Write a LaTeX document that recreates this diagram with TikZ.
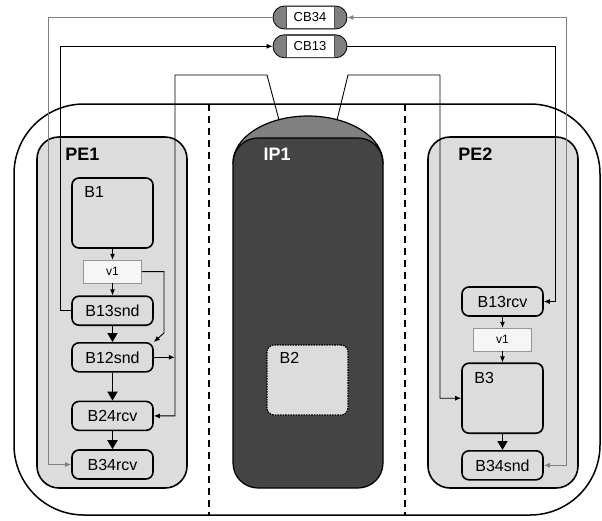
\documentclass[tikz,border=0pt]{standalone}
\usepackage{fontspec}
\setmainfont{Liberation Sans}
\usetikzlibrary{positioning,calc,arrows.meta}
\definecolor{peFill}{RGB}{220,220,220}
\definecolor{ipDark}{RGB}{68,68,68}
\definecolor{domeGrey}{RGB}{128,128,128}
\definecolor{varFill}{RGB}{246,246,246}
\definecolor{varEdge}{RGB}{150,150,150}
\definecolor{chanGrey}{RGB}{128,128,128}

\begin{document}
\begin{tikzpicture}[x=1pt,y=-1pt,
  outerbox/.style={draw,line width=1.5pt,rounded corners=70pt,
                   minimum width=586pt,minimum height=411pt},
  divider/.style={line width=1.5pt,dash pattern=on 7pt off 5pt},
  pe/.style={draw,fill=peFill,line width=1.6pt,rounded corners=22pt,
             minimum width=150pt,minimum height=351pt},
  ip/.style={draw,fill=ipDark,line width=1.2pt,rounded corners=25pt,
             minimum width=150pt,minimum height=350pt},
  petitle/.style={font=\fontsize{18}{20}\selectfont\bfseries,anchor=west,inner sep=0pt},
  blk/.style={draw,fill=peFill,line width=1.6pt,rounded corners=7pt,
              minimum width=81pt,minimum height=29pt,inner sep=0pt,
              font=\fontsize{16}{18}\selectfont},
  bigblk/.style={blk,minimum height=70pt},
  blab/.style={font=\fontsize{16}{18}\selectfont,anchor=west,inner sep=0pt},
  varbox/.style={draw=varEdge,fill=varFill,line width=0.6pt,minimum width=58pt,
                 minimum height=23pt,inner sep=0pt,font=\fontsize{12}{14}\selectfont},
  cbcap/.style={draw,fill=domeGrey,line width=0.8pt,rounded corners=11.5pt,
                minimum width=74pt,minimum height=23pt},
  cbtag/.style={draw=black!70,fill=white,line width=0.5pt,minimum width=48pt,
                minimum height=22pt,inner sep=0pt,font=\fontsize{13}{15}\selectfont},
  sig/.style={line width=0.9pt,-{Latex[length=6pt,width=5pt]}},
  thk/.style={line width=1.8pt,-{Triangle[length=9pt,width=10pt]}},
  chan/.style={line width=1pt,draw=chanGrey}
]
\useasboundingbox (0,0) rectangle (602,520);

% ==========  frame + partitions  ==========
\node[outerbox] (sys) at (307,309.5) {};
\draw[divider] (209,104) -- (209,515);
\draw[divider] (405,104) -- (405,515);

% ==========  PE1 column  ==========
\node[pe] (pe1) at (112,312.5) {};
\node[petitle] (pe1lab) at ($(pe1.north west)+(29,18)$) {PE1};

\node[bigblk] (b1) at (112.5,213) {};
\node[blab] (b1lab) at ($(b1.north west)+(13,15)$) {B1};
\node[varbox,below=11pt of b1] (v1a) {v1};
\node[blk,below=12pt of v1a] (b13snd) {B13snd};
\node[blk,below=16pt of b13snd] (b12snd) {B12snd};
\node[blk,below=28pt of b12snd] (b24rcv) {B24rcv};
\node[blk,below=18pt of b24rcv] (b34rcv) {B34rcv};

% ==========  IP1 column  ==========
\draw[fill=domeGrey,line width=1.2pt] (233,163)
  arc[start angle=180,end angle=0,x radius=75pt,y radius=47pt] -- cycle;
\node[ip] (ip1) at (308,313) {};
\node[petitle,text=white] (ip1lab) at ($(ip1.north west)+(31,17)$) {IP1};
\coordinate (ipL) at (279,120);
\coordinate (ipR) at (337,120);

\node[bigblk,densely dotted,line width=1.2pt] (b2) at (307.5,380) {};
\node[blab] (b2lab) at ($(b2.north west)+(13,14)$) {B2};

% ==========  PE2 column  ==========
\node[pe] (pe2) at (503,312.5) {};
\node[petitle] (pe2lab) at ($(pe2.north west)+(31,18)$) {PE2};

\node[blk] (b13rcv) at (502.5,301.5) {B13rcv};
\node[varbox,below=11pt of b13rcv] (v1b) {v1};
\node[bigblk,below=11pt of v1b] (b3) {};
\node[blab] (b3lab) at ($(b3.north west)+(13,16)$) {B3};
\node[blk,below=16pt of b3] (b34snd) {B34snd};

% ==========  channels (top)  ==========
\node[cbcap] (cb34) at (310,17.5) {};
\node[cbtag] (cb34t) at (cb34) {CB34};
\node[cbcap,below=5pt of cb34] (cb13) {};
\node[cbtag] (cb13t) at (cb13) {CB13};

% ==========  PE1 flow  ==========
\draw[sig] (b1) -- (v1a);
\draw[sig] (v1a) -- (b13snd);
\draw[thk] (b13snd) -- (b12snd);
\draw[thk] (b12snd) -- (b24rcv);
\draw[thk] (b24rcv) -- (b34rcv);
\draw[sig] (v1a.east) -| (164,333) -- (b12snd.north east);
\draw[sig] (b12snd.east) -- ++(21,0);

% ==========  PE2 flow  ==========
\draw[sig] (b13rcv) -- (v1b);
\draw[sig] (v1b) -- (b3);
\draw[thk] (b3) -- (b34snd);

% IP1 links (from the top of the dome)
\draw[sig] (ipL) -- (267,75) -- (175,75) |- (b24rcv.east);
\draw[sig] (ipR) -- (348,75) -- (440,75) |- (b3.west);

% CB13: B13snd -> B13rcv
\draw[sig] (b13snd.west) -- ++(-11,0) |- (cb13.west);
\draw[sig] (cb13.east) -| ([xshift=12pt]b13rcv.east) -- (b13rcv.east);

% CB34: B34snd -> B34rcv (grey)
\draw[sig,chan] (cb34.west) -| ([xshift=-23pt]b34rcv.west) -- (b34rcv.west);
\draw[chan,{Latex[length=6pt,width=5pt]}-{Latex[length=6pt,width=5pt]}]
  (b34snd.east) -- ++(23,0) |- (cb34.east);

\end{tikzpicture}
\end{document}
